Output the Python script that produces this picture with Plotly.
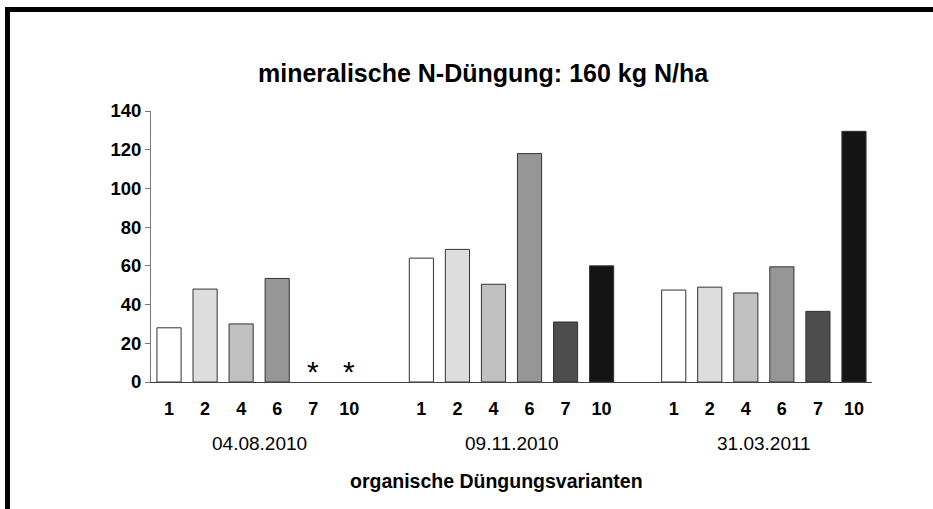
import plotly.graph_objects as go

# ---- data ----
variants = ["1", "2", "4", "6", "7", "10"]
dates = ["04.08.2010", "09.11.2010", "31.03.2011"]
values_0408 = [28, 48, 30, 53.5, None, None]
values_0911 = [64, 68.5, 50.5, 118, 31, 60]
values_3103 = [47.5, 49, 46, 59.5, 36.5, 129.5]
series = [values_0408, values_0911, values_3103]
bar_colors = ["#ffffff", "#dddddd", "#c0c0c0", "#969696", "#4d4d4d", "#141414"]

title = "mineralische N-Düngung: 160 kg N/ha"
x_title = "organische Düngungsvarianten"
y_ticks = [0, 20, 40, 60, 80, 100, 120, 140]

FONT = "Liberation Sans, Arial, sans-serif"
GROUP_STEP = len(variants) + 1

fig = go.Figure()
tickvals, ticktext = [], []
stars = []
for g, vals in enumerate(series):
    xs = [g * GROUP_STEP + i for i in range(len(variants))]
    tickvals += xs
    ticktext += variants
    fig.add_trace(go.Bar(
        x=xs, y=vals, width=0.67,
        marker=dict(color=bar_colors, line=dict(color="#333333", width=1)),
        showlegend=False, hoverinfo="x+y",
    ))
    for x, v in zip(xs, vals):
        if v is None:
            stars.append(x)

for x in stars:
    fig.add_annotation(x=x, y=0, xref="x", yref="y", text="*", showarrow=False,
                       yanchor="bottom", yshift=-8,
                       font=dict(family=FONT, size=30, color="#000"))

for g, d in enumerate(dates):
    fig.add_annotation(x=g * GROUP_STEP + (len(variants) - 1) / 2, y=-0.2265,
                       xref="x", yref="paper", text=d, showarrow=False,
                       yanchor="middle", font=dict(family=FONT, size=19, color="#000"))

fig.add_annotation(x=0.479, y=-0.364, xref="paper", yref="paper", text=x_title,
                   showarrow=False, yanchor="middle",
                   font=dict(family=FONT, size=19.5, color="#000", weight="bold"))
fig.add_annotation(x=0.461, y=1.14, xref="paper", yref="paper", text=title,
                   showarrow=False, yanchor="middle",
                   font=dict(family=FONT, size=25, color="#000", weight="bold"))

# frame decoration (thick black lines at top and left)
fig.add_shape(type="rect", xref="paper", yref="paper", x0=-0.2025, x1=-0.1956,
              y0=-0.52, y1=1.384, fillcolor="#000", line=dict(width=0), layer="above")
fig.add_shape(type="rect", xref="paper", yref="paper", x0=-0.2025, x1=1.1,
              y0=1.3655, y1=1.384, fillcolor="#000", line=dict(width=0), layer="above")

fig.update_layout(
    width=933, height=509,
    margin=dict(l=151, r=61, t=111, b=127),
    paper_bgcolor="#fff", plot_bgcolor="#fff",
    barmode="overlay",
    font=dict(family=FONT, color="#000"),
    xaxis=dict(range=[-0.5, 2 * GROUP_STEP + len(variants) - 0.5],
               tickvals=tickvals, ticktext=ticktext, showgrid=False, zeroline=False,
               showline=True, linecolor="#444", linewidth=1, ticks="",
               ticklabelstandoff=10,
               tickfont=dict(family=FONT, size=18, color="#000", weight="bold")),
    yaxis=dict(range=[0, 140], tickvals=y_ticks, showgrid=False, zeroline=False,
               showline=True, linecolor="#777", linewidth=1, ticks="outside",
               ticklen=5, tickcolor="#777",
               tickfont=dict(family=FONT, size=18.5, color="#000", weight="bold")),
)

fig.write_html("out.html", config={"displayModeBar": False},
               post_script="document.body.style.margin='0';document.body.style.overflow='hidden';")
